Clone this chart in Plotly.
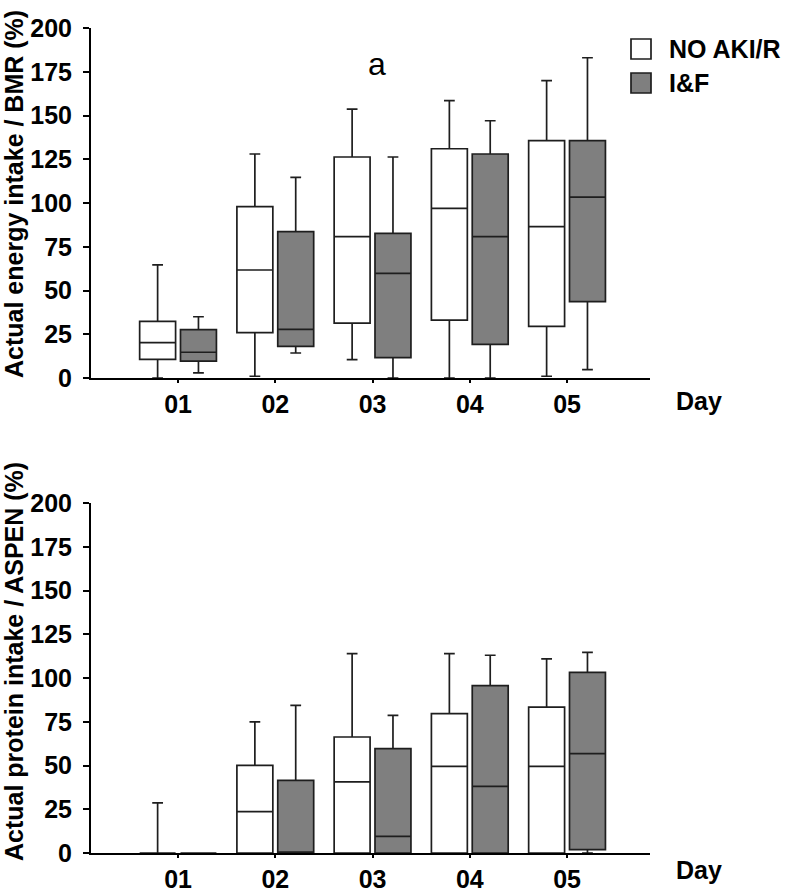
import plotly.graph_objects as go

# ==================== DATA ====================

days = ["01", "02", "03", "04", "05"]

# panel a: actual energy intake / BMR (%)
energy_no_aki_low = [0, 1, 10.5, 0, 1]
energy_no_aki_q1 = [10.7, 25.9, 31.4, 33.1, 29.5]
energy_no_aki_med = [20.2, 61.7, 80.8, 96.9, 86.5]
energy_no_aki_q3 = [32.4, 97.9, 126.3, 131.0, 135.6]
energy_no_aki_high = [64.6, 128.0, 153.7, 158.5, 169.9]

energy_if_low = [2.9, 14.3, 0, 0, 4.8]
energy_if_q1 = [9.7, 18.1, 11.6, 19.2, 43.6]
energy_if_med = [14.7, 27.8, 59.8, 80.8, 103.4]
energy_if_q3 = [27.6, 83.6, 82.7, 128.0, 135.6]
energy_if_high = [35.0, 114.7, 126.3, 147.0, 183.0]

# panel b: actual protein intake / ASPEN (%)
protein_no_aki_low = [0, 0, 0, 0, 0]
protein_no_aki_q1 = [0, 0, 0, 0, 0]
protein_no_aki_med = [0, 23.6, 40.6, 49.5, 49.5]
protein_no_aki_q3 = [0, 50.1, 66.3, 79.6, 83.4]
protein_no_aki_high = [28.6, 74.9, 113.9, 113.9, 110.9]

protein_if_low = [0, 0, 0, 0, 0]
protein_if_q1 = [0, 0, 0, 0, 1.9]
protein_if_med = [0, 0, 9.5, 38.1, 56.8]
protein_if_q3 = [0, 41.5, 59.6, 95.6, 103.2]
protein_if_high = [0, 84.4, 78.7, 113.0, 114.7]

y_ticks = [0, 25, 50, 75, 100, 125, 150, 175, 200]

FONT = "Liberation Sans, Arial, sans-serif"
LINE = "#1e1e1e"
GREY = "#7f7f7f"
W, H = 787, 888


def px_x(x):
    return x / W


def px_y(y):
    return 1 - y / H


def make_box(name, low, q1, med, q3, high, fill, xaxis, yaxis):
    return go.Box(
        name=name,
        x=days,
        lowerfence=low,
        q1=q1,
        median=med,
        q3=q3,
        upperfence=high,
        fillcolor=fill,
        line=dict(color=LINE, width=1.7),
        whiskerwidth=0.3,
        xaxis=xaxis,
        yaxis=yaxis,
        offsetgroup=name,
        showlegend=False,
        hoverinfo="skip",
    )


fig = go.Figure()
fig.add_trace(make_box("NO AKI/R", energy_no_aki_low, energy_no_aki_q1, energy_no_aki_med,
                       energy_no_aki_q3, energy_no_aki_high, "white", "x", "y"))
fig.add_trace(make_box("I&F", energy_if_low, energy_if_q1, energy_if_med,
                       energy_if_q3, energy_if_high, GREY, "x", "y"))
fig.add_trace(make_box("NO AKI/R", protein_no_aki_low, protein_no_aki_q1, protein_no_aki_med,
                       protein_no_aki_q3, protein_no_aki_high, "white", "x2", "y2"))
fig.add_trace(make_box("I&F", protein_if_low, protein_if_q1, protein_if_med,
                       protein_if_q3, protein_if_high, GREY, "x2", "y2"))

tick_font = dict(family=FONT, size=25, color="black", weight="bold")

xaxis_common = dict(
    type="category",
    categoryorder="array",
    categoryarray=days,
    range=[-0.895, 4.853],
    domain=[px_x(91), px_x(650)],
    showline=True,
    linecolor="black",
    linewidth=2,
    ticks="outside",
    ticklen=3,
    tickwidth=1.5,
    tickcolor="black",
    ticklabelstandoff=0,
    showgrid=False,
    zeroline=False,
    tickfont=tick_font,
    automargin=False,
    fixedrange=True,
)

yaxis_common = dict(
    range=[0, 200],
    tickvals=y_ticks,
    showline=True,
    linecolor="black",
    linewidth=2,
    ticks="outside",
    ticklen=6,
    tickwidth=1.5,
    tickcolor="black",
    ticklabelstandoff=6,
    showgrid=False,
    zeroline=False,
    tickfont=tick_font,
    automargin=False,
    fixedrange=True,
)

fig.update_layout(
    width=W,
    height=H,
    margin=dict(l=0, r=0, t=0, b=0),
    paper_bgcolor="white",
    plot_bgcolor="white",
    boxmode="group",
    boxgap=0.16,
    boxgroupgap=0.12,
    showlegend=False,
    xaxis=dict(xaxis_common, anchor="y"),
    yaxis=dict(yaxis_common, anchor="x", domain=[px_y(378), px_y(28)]),
    xaxis2=dict(xaxis_common, anchor="y2"),
    yaxis2=dict(yaxis_common, anchor="x2", domain=[px_y(853), px_y(503)]),
)


def label(text, x, y, size, bold=True, xanchor="center", angle=0):
    fig.add_annotation(text=text, xref="paper", yref="paper", x=px_x(x), y=px_y(y),
                       xanchor=xanchor, yanchor="middle", textangle=angle, showarrow=False,
                       font=dict(family=FONT, size=size, color="black",
                                 weight="bold" if bold else "normal"))


# axis titles, "Day" labels and panel letter
label("Actual energy intake / BMR (%)", 14, 194, 25, angle=-90)
label("Actual protein intake / ASPEN (%)", 14, 662, 25, angle=-90)
label("Day", 699, 401, 25)
label("Day", 699, 870, 25)
label("a", 377, 64, 32, bold=False)

# legend drawn by hand so the swatches can be as large as in the original
for y_px, fill, text in ((49, "white", "NO AKI/R"), (83, GREY, "I&F")):
    fig.add_shape(type="rect", xref="paper", yref="paper",
                  x0=px_x(631), x1=px_x(651), y0=px_y(y_px - 10), y1=px_y(y_px + 10),
                  fillcolor=fill, line=dict(color=LINE, width=1.7))
    label(text, 667, y_px, 25, xanchor="left")

# the page body has an 8px default margin; drop it so the figure fills the window
fig.write_html("out.html", config={"displayModeBar": False},
               post_script="document.body.style.margin='0';")
